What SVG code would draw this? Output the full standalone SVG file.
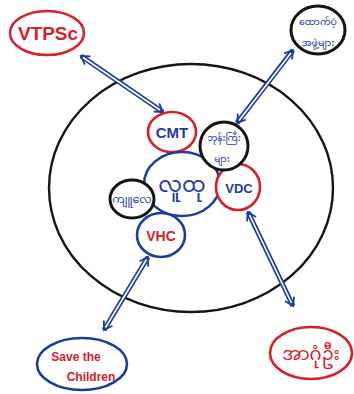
<svg xmlns="http://www.w3.org/2000/svg" width="354" height="394" viewBox="0 0 354 394">
<style>
.blk{fill:none;stroke:#151515;stroke-width:3}
.red{fill:none;stroke:#d6202c;stroke-width:2.6}
.blu{fill:none;stroke:#1e3c9c;stroke-width:2.6}
.ob{stroke:#1e3c9c;stroke-width:5;fill:none}
.ow{stroke:#ffffff;stroke-width:1.6;fill:none}
.t{font-family:"Liberation Sans","Noto Sans",sans-serif;font-weight:bold;text-anchor:middle}
.tr{fill:#d6202c}
.tb{fill:#1e3c9c}
.my{font-family:"Noto Sans Myanmar","Noto Sans",sans-serif;text-anchor:middle;fill:#1e3c9c}
.myr{font-family:"Noto Sans Myanmar","Noto Sans",sans-serif;text-anchor:middle;fill:#d6202c}
</style>
<defs>
<marker id="ah" markerUnits="userSpaceOnUse" markerWidth="14" markerHeight="14" refX="11" refY="7" orient="auto-start-reverse">
<path d="M3,2 L11,7 L3,12" fill="none" stroke="#1e3c9c" stroke-width="1.8"/>
</marker>
</defs>
<rect width="354" height="394" fill="#ffffff"/>
<g id="boundary">
<ellipse cx="191" cy="188" rx="142" ry="124" fill="none" stroke="#151515" stroke-width="2.4"/>
</g>
<g id="connectors">
<path class="ob" d="M81,56 L163,112" marker-start="url(#ah)" marker-end="url(#ah)"/>
<path class="ow" d="M83,57.5 L160,110"/>
<path class="ob" d="M293,50 L237,123" marker-start="url(#ah)" marker-end="url(#ah)"/>
<path class="ow" d="M291,53 L239,120.5"/>
<path class="ob" d="M248,212 L293,306" marker-start="url(#ah)" marker-end="url(#ah)"/>
<path class="ow" d="M249.5,215 L291.5,303"/>
<path class="ob" d="M148,257 L104,330" marker-start="url(#ah)" marker-end="url(#ah)"/>
<path class="ow" d="M146.5,259.5 L105.5,327.5"/>
</g>
<g id="vtpsc">
<ellipse class="red" cx="47" cy="33" rx="37" ry="22"/>
<text class="t tr" x="48" y="40" font-size="19">VTPSc</text>
</g>
<g id="topright">
<ellipse class="blk" cx="318" cy="30" rx="27" ry="24"/>
<text class="my" x="318" y="25" font-size="9.5">ထောက်ပံ့</text>
<text class="my" x="318" y="46" font-size="9.5">အဖွဲ့များ</text>
</g>
<g id="cmt">
<ellipse cx="172" cy="132" rx="24" ry="20" fill="#ffffff" stroke="#d6202c" stroke-width="2.6"/>
<text class="t tb" x="172" y="138" font-size="15">CMT</text>
</g>
<g id="community">
<ellipse cx="182" cy="184" rx="38" ry="32" fill="#ffffff" stroke="#1e3c9c" stroke-width="2.6"/>
<text class="my" x="182" y="192" font-size="21">လူထု</text>
</g>
<g id="vdc">
<ellipse cx="238" cy="187" rx="22" ry="23" fill="#ffffff" stroke="#d6202c" stroke-width="2.6"/>
<text class="t tb" x="239" y="193" font-size="13">VDC</text>
</g>
<g id="monks">
<circle cx="224" cy="146" r="24" fill="#ffffff" stroke="#151515" stroke-width="3"/>
<text class="my" x="224" y="141" font-size="9">ဘုန်းကြီး</text>
<text class="my" x="222" y="162" font-size="9">များ</text>
</g>
<g id="left">
<ellipse cx="132" cy="199" rx="22" ry="19" fill="#ffffff" stroke="#151515" stroke-width="3"/>
<text class="my" x="132" y="203" font-size="11">ကျူလေ</text>
</g>
<g id="vhc">
<ellipse cx="161" cy="235" rx="24" ry="22" fill="#ffffff" stroke="#1e3c9c" stroke-width="2.6"/>
<text class="t tr" x="161" y="241" font-size="14">VHC</text>
</g>
<g id="stc">
<ellipse class="blu" cx="82" cy="364" rx="45" ry="26"/>
<text class="t tr" x="76" y="361" font-size="12">Save the</text>
<text class="t tr" x="91" y="381" font-size="12">Children</text>
</g>
<g id="uagu">
<ellipse class="red" cx="311" cy="353" rx="41" ry="26"/>
<text class="myr" x="311" y="360" font-size="18">အာဂုံဦး</text>
</g>
</svg>
